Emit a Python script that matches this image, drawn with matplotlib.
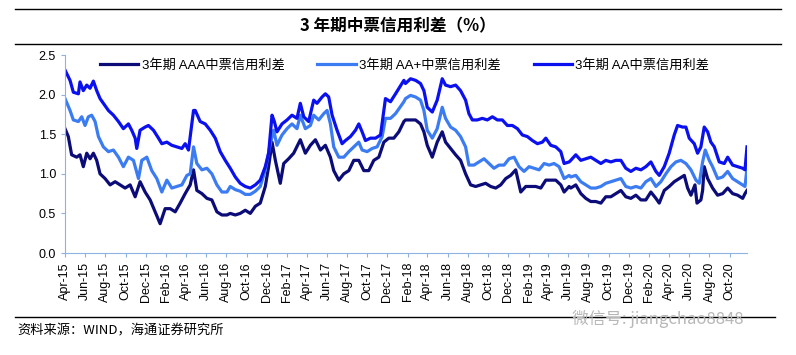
import matplotlib
matplotlib.use("Agg")
import matplotlib.pyplot as plt
import matplotlib.dates as mdates
from matplotlib.lines import Line2D
from matplotlib.ticker import MultipleLocator, FormatStrFormatter
import pandas as pd

plt.rcParams['font.family'] = ['Liberation Sans', 'Noto Sans CJK SC', 'DejaVu Sans']

# time = months since 2015-04-01, values in %
aaa_t = [0, 0.33, 0.66, 1.16, 1.49, 1.82, 2.16, 2.49, 2.82, 3.15, 3.48, 3.98, 4.48, 4.98,
         5.47, 5.97, 6.47, 6.97, 7.46, 7.96, 8.46, 8.96, 9.45, 9.95, 10.45, 10.95, 11.44,
         11.94, 12.44, 12.77, 13.10, 13.60, 14.10, 14.59, 15.09, 15.59, 16.09,
         16.42, 16.92, 17.41, 17.91, 18.41, 18.91, 19.40, 19.90, 20.23, 20.57, 20.90, 21.39,
         21.73, 22.22, 22.72, 23.38, 23.88, 24.38, 24.88, 25.38, 25.87, 26.37, 26.70, 27.20,
         27.70, 28.20, 28.69, 29.19, 29.69, 30.18, 30.68, 31.18, 31.68, 32.17, 32.67, 33.17,
         33.67, 33.83, 34.33, 34.83, 35.32, 35.66, 35.99, 36.49, 36.98, 37.48, 37.81, 38.31,
         38.81, 39.30, 39.80, 40.30, 40.80, 41.30, 41.79, 42.29, 42.79, 43.29, 43.79, 44.28,
         44.78, 45.28, 45.78, 46.27, 46.77, 47.27, 47.77, 48.26, 48.76, 49.26, 49.59, 50.09,
         50.25, 50.75, 51.25, 51.74, 52.24, 52.74, 53.24, 53.73, 54.23, 54.73, 55.23, 55.72,
         56.22, 56.72, 57.22, 57.71, 58.21, 58.71, 59.04, 59.54, 60.03, 60.53, 61.03, 61.53,
         61.86, 62.19, 62.59, 62.79, 63.18, 63.35, 63.51, 63.85, 64.34, 64.84, 65.34, 65.84,
         66.33, 66.83, 67.33, 67.56, 67.76]
aaa_v = [1.57, 1.47, 1.24, 1.21, 1.24, 1.09, 1.26, 1.19, 1.26, 1.17, 1.00, 0.94, 0.86, 0.90,
         0.86, 0.82, 0.86, 0.71, 0.90, 0.77, 0.67, 0.52, 0.37, 0.56, 0.56, 0.52, 0.63,
         0.75, 0.86, 1.05, 0.79, 0.75, 0.69, 0.67, 0.52, 0.48, 0.48,
         0.50, 0.48, 0.50, 0.54, 0.50, 0.59, 0.63, 0.84, 1.09, 1.40, 1.17, 0.88,
         1.13, 1.19, 1.26, 1.43, 1.26, 1.36, 1.43, 1.30, 1.36, 1.21, 1.04, 0.92,
         1.00, 1.04, 1.17, 1.17, 1.04, 1.04, 1.17, 1.21, 1.40, 1.45, 1.45, 1.53,
         1.66, 1.68, 1.68, 1.68, 1.63, 1.53, 1.36, 1.21, 1.40, 1.53, 1.40, 1.32,
         1.24, 1.17, 1.00, 0.86, 0.84, 0.86, 0.88, 0.84, 0.82, 0.86, 0.94, 0.98,
         1.05, 0.77, 0.84, 0.84, 0.84, 0.82, 0.92, 0.92, 0.92, 0.86, 0.77, 0.84,
         0.82, 0.86, 0.75, 0.69, 0.65, 0.65, 0.63, 0.71, 0.71, 0.75, 0.79, 0.71,
         0.69, 0.73, 0.67, 0.67, 0.77, 0.69, 0.63, 0.79, 0.84, 0.90, 0.94, 0.98,
         0.82, 0.73, 0.86, 0.63, 0.67, 0.79, 1.09, 0.94, 0.82, 0.73, 0.75, 0.82,
         0.75, 0.73, 0.69, 0.75, 0.79]

aap_t = [0, 0.50, 0.83, 1.33, 1.66, 1.99, 2.32, 2.65, 2.99, 3.32, 3.81, 4.31, 4.81, 5.31,
         5.80, 6.30, 6.80, 7.30, 7.63, 8.13, 8.62, 9.12, 9.62, 10.12, 10.61, 11.11, 11.61,
         12.11, 12.44, 12.77, 13.10, 13.60, 14.10, 14.59, 15.09, 15.59, 16.09,
         16.42, 16.92, 17.41, 17.91, 18.41, 18.91, 19.40, 19.90, 20.40, 20.73, 21.06, 21.56,
         22.06, 22.55, 23.05, 23.38, 23.88, 24.38, 24.71, 25.21, 25.71, 26.04, 26.37, 26.70,
         27.20, 27.70, 28.20, 28.69, 29.19, 29.52, 30.02, 30.52, 31.01, 31.51, 31.84, 32.34,
         32.84, 33.67, 33.83, 34.33, 34.83, 35.32, 35.66, 35.99, 36.49, 36.98, 37.48, 37.81,
         38.31, 38.81, 39.30, 39.80, 40.13, 40.63, 41.13, 41.63, 42.13, 42.62, 43.12, 43.62,
         44.12, 44.62, 45.11, 45.61, 46.11, 46.61, 47.10, 47.60, 48.10, 48.59, 49.09, 49.59,
         50.09, 50.25, 50.75, 51.25, 51.74, 52.24, 52.74, 53.24, 53.73, 54.23, 54.73, 55.23,
         55.72, 56.22, 56.72, 57.22, 57.71, 58.21, 58.71, 59.20, 59.70, 60.20, 60.70, 61.19,
         61.69, 62.19, 62.69, 63.02, 63.35, 63.61, 64.01, 64.34, 64.84, 65.34, 65.84, 66.33,
         66.83, 67.33, 67.56, 67.76]
aap_v = [1.95, 1.80, 1.68, 1.66, 1.72, 1.61, 1.72, 1.74, 1.66, 1.47, 1.34, 1.28, 1.30, 1.21,
         1.09, 1.21, 1.17, 0.94, 1.17, 1.21, 1.04, 0.94, 0.77, 0.92, 0.82, 0.84, 0.86,
         0.98, 1.00, 1.34, 1.13, 1.05, 1.07, 1.00, 0.86, 0.77, 0.77,
         0.84, 0.80, 0.78, 0.74, 0.74, 0.78, 0.84, 1.05, 1.38, 1.55, 1.36, 1.49,
         1.57, 1.63, 1.57, 1.74, 1.57, 1.61, 1.74, 1.68, 1.76, 1.80, 1.63, 1.34,
         1.21, 1.21, 1.28, 1.34, 1.40, 1.30, 1.28, 1.32, 1.34, 1.47, 1.70, 1.70,
         1.76, 1.91, 1.95, 1.99, 1.97, 1.93, 1.80, 1.55, 1.45, 1.57, 1.84, 1.70,
         1.59, 1.55, 1.47, 1.34, 1.11, 1.11, 1.15, 1.19, 1.13, 1.07, 1.11, 1.11,
         1.19, 1.21, 1.09, 1.03, 1.09, 1.07, 1.05, 1.13, 1.11, 1.13, 1.09, 0.94,
         0.98, 0.96, 0.98, 0.90, 0.86, 0.82, 0.82, 0.84, 0.88, 0.90, 0.92, 0.94,
         0.84, 0.82, 0.84, 0.82, 0.90, 0.94, 0.84, 0.90, 1.00, 1.09, 1.15, 1.17,
         1.13, 1.05, 0.92, 0.88, 1.15, 1.30, 1.17, 1.09, 0.94, 0.96, 1.03, 0.94,
         0.90, 0.86, 0.84, 1.07]

aa_t = [0, 0.50, 0.83, 1.33, 1.49, 1.82, 2.16, 2.49, 2.82, 3.15, 3.48, 3.81, 4.31, 4.81,
        5.31, 5.80, 6.30, 6.63, 6.97, 7.13, 7.46, 7.96, 8.29, 8.79, 9.29, 9.62, 10.12,
        10.61, 11.11, 11.61, 11.94, 12.27, 12.60, 12.77, 12.94, 13.43, 13.93, 14.43, 14.93,
        15.42, 15.92,
        16.42, 16.92, 17.41, 17.91, 18.41, 18.91, 19.40, 19.90, 20.23, 20.57, 20.80, 21.06,
        21.56, 22.06, 22.55, 23.05, 23.38, 23.72, 24.21, 24.71, 25.04, 25.54, 25.87, 26.20,
        26.54, 27.03, 27.53, 27.86, 28.36, 28.86, 29.19, 29.52, 29.85, 30.35, 30.85, 31.35,
        31.84, 32.34, 32.84, 33.67, 33.83, 34.33, 34.83, 35.32, 35.66, 35.99, 36.49, 36.98,
        37.48, 37.81, 38.31, 38.81, 39.30, 39.80, 40.13, 40.47, 40.96, 41.46, 41.96, 42.46,
        42.96, 43.45, 43.95, 44.45, 44.95, 45.44, 45.94, 46.44, 46.94, 47.43, 47.77, 48.26,
        48.76, 49.26, 49.59, 50.09, 50.25, 50.75, 51.25, 51.74, 52.24, 52.74, 53.24, 53.73,
        54.23, 54.73, 55.23, 55.72, 56.22, 56.72, 57.22, 57.71, 58.21, 58.71, 59.04, 59.54,
        60.03, 60.53, 60.86, 61.36, 61.69, 62.02, 62.52, 62.85, 63.18, 63.51, 63.85, 64.17,
        64.51, 65.00, 65.50, 65.84, 66.33, 66.83, 67.33, 67.56, 67.76]
aa_v = [2.31, 2.18, 2.03, 2.01, 2.16, 2.05, 2.12, 2.08, 2.17, 2.05, 1.95, 1.89, 1.80, 1.74,
        1.66, 1.57, 1.63, 1.55, 1.45, 1.32, 1.55, 1.59, 1.61, 1.55, 1.45, 1.38, 1.40,
        1.36, 1.34, 1.32, 1.38, 1.30, 1.63, 1.80, 1.80, 1.66, 1.63, 1.55, 1.45,
        1.28, 1.17,
        1.07, 0.96, 0.88, 0.84, 0.82, 0.86, 0.92, 1.09, 1.26, 1.74, 1.66, 1.53,
        1.63, 1.68, 1.74, 1.70, 1.89, 1.72, 1.66, 1.93, 1.89, 1.97, 2.01, 1.97,
        1.74, 1.55, 1.38, 1.42, 1.47, 1.55, 1.63, 1.53, 1.42, 1.45, 1.45, 1.49,
        1.95, 1.91, 2.01, 2.18, 2.14, 2.20, 2.18, 2.14, 2.05, 1.84, 1.78, 1.93,
        2.20, 2.12, 2.10, 2.12, 2.05, 1.93, 1.76, 1.68, 1.68, 1.70, 1.68, 1.72,
        1.68, 1.68, 1.61, 1.61, 1.57, 1.49, 1.47, 1.42, 1.38, 1.40, 1.45, 1.36,
        1.34, 1.28, 1.13, 1.15, 1.17, 1.24, 1.17, 1.19, 1.21, 1.17, 1.13, 1.17,
        1.15, 1.17, 1.17, 1.07, 1.03, 1.07, 1.05, 1.09, 1.15, 1.03, 0.98, 1.09,
        1.26, 1.49, 1.61, 1.59, 1.59, 1.45, 1.38, 1.26, 1.34, 1.59, 1.53, 1.40,
        1.34, 1.15, 1.13, 1.21, 1.11, 1.09, 1.07, 1.05, 1.34]

series_names = ["3年期 AAA中票信用利差", "3年期 AA+中票信用利差", "3年期 AA中票信用利差"]
colors = ["#0c0c78", "#3c7cf2", "#0a10ee"]

start = pd.Timestamp("2015-04-01")


def to_dates(months):
    return [start + pd.Timedelta(days=m * 30.4375) for m in months]


fig = plt.figure(figsize=(7.96, 3.55), dpi=100)
ax = fig.add_axes([65 / 796, 1 - 253 / 355, 682 / 796, 198 / 355])

for t, v, name, c in zip([aaa_t, aap_t, aa_t], [aaa_v, aap_v, aa_v], series_names, colors):
    ax.plot(to_dates(t), v, color=c, lw=2.3, label=name, solid_joinstyle="round")

ax.set_ylim(0, 2.5)
ax.yaxis.set_major_locator(MultipleLocator(0.5))
ax.yaxis.set_major_formatter(FormatStrFormatter("%.1f"))
ax.set_xlim(start, to_dates([aa_t[-1]])[0])
ax.xaxis.set_major_locator(mdates.MonthLocator(bymonth=[2, 4, 6, 8, 10, 12]))
ax.xaxis.set_major_formatter(mdates.DateFormatter("%b-%y"))
plt.setp(ax.get_xticklabels(), rotation=90)

for s in ["top", "right"]:
    ax.spines[s].set_visible(False)
axc = "#8db3e2"
ax.spines["left"].set_color(axc)
ax.spines["bottom"].set_color(axc)
ax.tick_params(axis="both", colors=axc, labelcolor="black", labelsize=9, length=3, width=0.8)

leg = ax.legend(loc="center left", bbox_to_anchor=(35 / 682, (253 - 65) / 198), ncol=3,
                frameon=False, fontsize=9.5, handlelength=2.9, columnspacing=2.5,
                handletextpad=0.25, borderpad=0, borderaxespad=0)

# title band
fig.add_artist(Line2D([15 / 796, 781 / 796], [1 - 9 / 355] * 2, color="black", lw=1.0))
fig.add_artist(Line2D([15 / 796, 781 / 796], [1 - 44 / 355] * 2, color="black", lw=1.0))
fig.text(0.5, 1 - 26 / 355, "3 年期中票信用利差（%）", ha="center", va="center",
         fontsize=12, weight="bold", family=["Noto Sans CJK SC", "DejaVu Sans"])

# footer
fig.add_artist(Line2D([15 / 796, 775 / 796], [1 - 317 / 355] * 2, color="black", lw=1.0))
fig.text(17 / 796, 1 - 331 / 355, "资料来源：WIND，海通证券研究所", ha="left", va="center",
         fontsize=9.5, family=["Noto Sans CJK SC", "DejaVu Sans"])
fig.text(572 / 796, 1 - 319 / 355, "微信号: jiangchao8848", ha="left", va="center",
         fontsize=12, color="#b8b8b8", family=["Noto Sans CJK SC", "DejaVu Sans"])

fig.savefig("out.png", dpi=100)
